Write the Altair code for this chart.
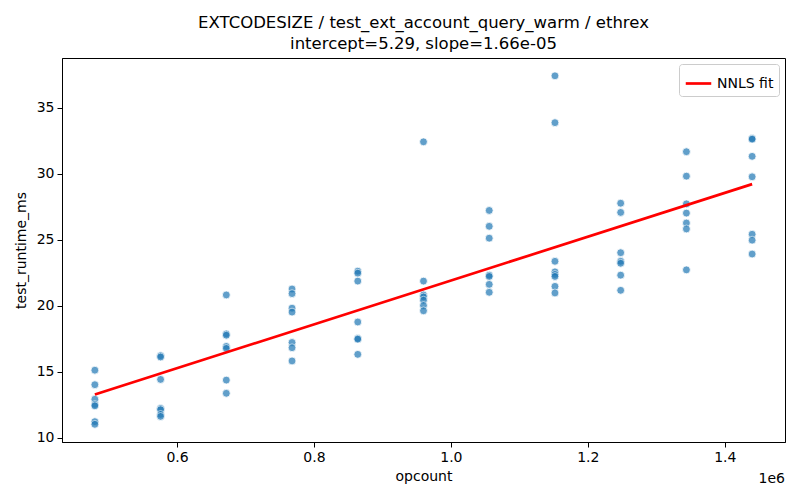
import altair as alt
import pandas as pd

opcount_levels = [480000, 576000, 672000, 768000, 864000, 960000,
                  1056000, 1152000, 1248000, 1344000, 1440000]
runtime_groups = [
    [15.1, 14.0, 12.9, 12.5, 12.4, 11.2, 11.0],
    [16.2, 16.1, 14.4, 12.2, 12.1, 11.75, 11.6],
    [20.8, 17.85, 17.75, 16.9, 16.75, 14.35, 13.35],
    [21.25, 20.9, 19.8, 19.5, 17.2, 16.8, 15.8],
    [22.6, 22.45, 21.85, 18.75, 17.5, 17.45, 16.3],
    [32.4, 21.85, 20.8, 20.65, 20.4, 20.0, 19.6],
    [27.2, 26.0, 25.1, 22.3, 22.2, 21.6, 21.0],
    [37.4, 33.85, 23.35, 22.55, 22.35, 22.2, 21.45, 20.95],
    [27.75, 27.05, 24.0, 23.35, 23.2, 22.3, 21.15],
    [31.65, 29.8, 27.7, 27.0, 26.25, 25.8, 22.7],
    [32.65, 32.6, 31.3, 29.75, 25.4, 24.95, 23.9],
]
intercept = 5.29
slope = 1.66e-05
fit_label = "NNLS fit"
x_ticks = [600000, 800000, 1000000, 1200000, 1400000]
y_ticks = [10, 15, 20, 25, 30, 35]

rows = []
for xv, ys in zip(opcount_levels, runtime_groups):
    for yv in ys:
        rows.append({"opcount": xv, "test_runtime_ms": yv})
pts = pd.DataFrame(rows)

fit_x = [min(opcount_levels), max(opcount_levels)]
fit = pd.DataFrame({"opcount": fit_x,
                    "test_runtime_ms": [intercept + slope * v for v in fit_x],
                    "series": [fit_label] * 2})

FONT = "DejaVu Sans"
xscale = alt.Scale(domain=[432000, 1488000], nice=False, zero=False)
yscale = alt.Scale(domain=[9.66, 38.75], nice=False, zero=False)

xaxis = alt.Axis(values=x_ticks, labelExpr="format(datum.value/1e6, '.1f')",
                 title="opcount", grid=False, tickSize=5, labelPadding=3,
                 titlePadding=5)
yaxis = alt.Axis(values=y_ticks, title="test_runtime_ms", grid=False,
                 tickSize=5, labelPadding=3, titlePadding=8)

points = alt.Chart(pts).mark_circle(size=62, color="#1f77b4", opacity=0.7,
                                     stroke="white", strokeWidth=0.8).encode(
    x=alt.X("opcount:Q", scale=xscale, axis=xaxis),
    y=alt.Y("test_runtime_ms:Q", scale=yscale, axis=yaxis),
)

line = alt.Chart(fit).mark_line(strokeWidth=2.7).encode(
    x=alt.X("opcount:Q", scale=xscale),
    y=alt.Y("test_runtime_ms:Q", scale=yscale),
    color=alt.Color("series:N", scale=alt.Scale(range=["red"]),
                    legend=alt.Legend(title=None, orient="top-right",
                                      symbolType="stroke", symbolStrokeWidth=2.7,
                                      symbolSize=650, labelFontSize=14,
                                      labelFont=FONT, strokeColor="#cccccc",
                                      fillColor="white", padding=5,
                                      cornerRadius=3, offset=6)),
)

offset_text = alt.Chart(pd.DataFrame({"t": ["1e6"]})).mark_text(
    font=FONT, fontSize=14, align="right", baseline="top", color="black"
).encode(text="t:N", x=alt.value(723), y=alt.value(414))

chart = alt.layer(points, line, offset_text).properties(
    width=723, height=384,
    padding={"left": 54, "top": 50, "right": 7, "bottom": 50},
    autosize="none",
    title=alt.Title(["EXTCODESIZE / test_ext_account_query_warm / ethrex",
                     "intercept=5.29, slope=1.66e-05"],
                    font=FONT, fontSize=16.5, fontWeight="normal",
                    color="black", lineHeight=21, offset=6, anchor="middle"),
).configure_view(stroke="black", strokeWidth=1).configure_axis(
    labelFont=FONT, titleFont=FONT, labelFontSize=14, titleFontSize=14,
    labelColor="black", titleColor="black", titleFontWeight="normal",
    domainColor="black", tickColor="black",
)

chart.save("out.html", embed_options={"renderer": "svg", "actions": False})
